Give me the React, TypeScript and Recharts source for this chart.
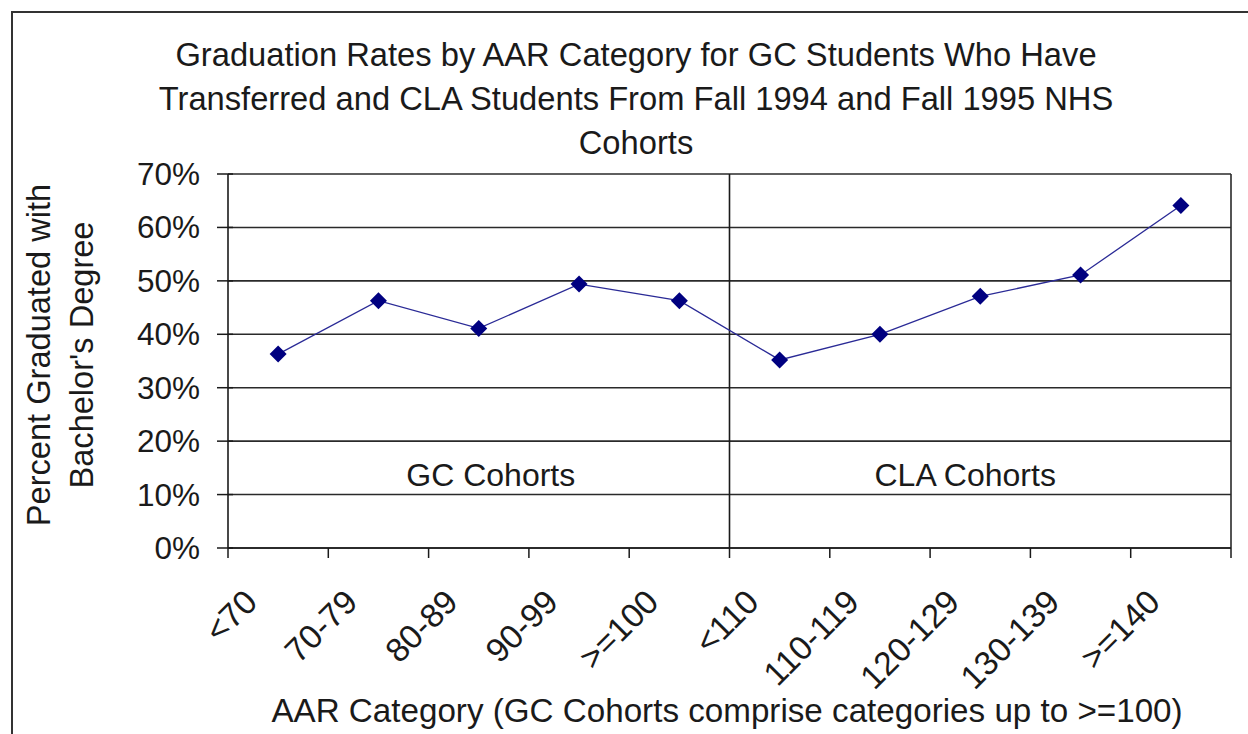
import { LineChart, Line, XAxis, YAxis, CartesianGrid, ReferenceLine, ReferenceDot } from 'recharts';

const categories = ['<70', '70-79', '80-89', '90-99', '>=100', '<110', '110-119', '120-129', '130-139', '>=140'];
const gradRates = [36.3, 46.3, 41.1, 49.4, 46.3, 35.2, 40, 47.1, 51.1, 64.1];
const yTicks = [0, 10, 20, 30, 40, 50, 60, 70];
const titleLines = [
  'Graduation Rates by AAR Category for GC Students Who Have',
  'Transferred and CLA Students From Fall 1994 and Fall 1995 NHS',
  'Cohorts',
];
const yLabelLines = ['Percent Graduated with', "Bachelor's Degree"];
const xLabel = 'AAR Category (GC Cohorts comprise categories up to >=100)';
const groupLabels = ['GC Cohorts', 'CLA Cohorts'];

// category i sits in the middle of band [i, i+1]
const data = gradRates.map((rate, i) => ({ x: i + 0.5, rate }));
const xTicks = [...Array(categories.length * 2 + 1)].map((_, i) => i / 2);

const FONT = '"Liberation Sans", Arial, sans-serif';
const INK = '#1a1a1a';

const XTick = (props: any) => {
  const { x, y, payload } = props;
  const v = payload.value as number;
  if (Number.isInteger(v)) {
    return <line x1={x} y1={y} x2={x} y2={y + 10} stroke={INK} strokeWidth={1.5} />;
  }
  const label = categories[Math.floor(v)];
  const ax = x - 19;
  const ay = y + 56;
  return (
    <text
      x={ax}
      y={ay}
      transform={`rotate(-45 ${ax} ${ay})`}
      textAnchor="end"
      fontFamily={FONT}
      fontSize={33.5}
      fill={INK}
    >
      {label}
    </text>
  );
};

const YTick = (props: any) => {
  const { x, y, payload } = props;
  return (
    <g>
      <line x1={x - 11} y1={y} x2={x + 5} y2={y} stroke={INK} strokeWidth={1.5} />
      <text x={x - 28} y={y + 11} textAnchor="end" fontFamily={FONT} fontSize={31.5} fill={INK}>
        {`${payload.value}%`}
      </text>
    </g>
  );
};

const Diamond = (props: any) => {
  const { cx, cy, index } = props;
  if (cx == null || cy == null) return <g key={index} />;
  return (
    <path
      key={index}
      d={`M${cx},${cy - 8.5} L${cx + 8.5},${cy} L${cx},${cy + 8.5} L${cx - 8.5},${cy} Z`}
      fill="#000080"
    />
  );
};

const GroupLabel = (text: string) => (props: any) => {
  const { viewBox } = props;
  const cx = viewBox.x + viewBox.width / 2;
  const cy = viewBox.y + viewBox.height / 2;
  return (
    <text x={cx} y={cy + 11} textAnchor="middle" fontFamily={FONT} fontSize={32} fill={INK}>
      {text}
    </text>
  );
};

export default function App() {
  return (
    <div
      style={{
        position: 'absolute',
        left: 0,
        top: 0,
        width: 1248,
        height: 734,
        background: '#fff',
        overflow: 'hidden',
      }}
    >
      <div
        style={{
          position: 'absolute',
          left: 11,
          top: 11,
          width: 1400,
          height: 900,
          border: '2px solid #333',
        }}
      />
      <LineChart
        width={1248}
        height={734}
        data={data}
        margin={{ top: 174, right: 17, bottom: 0, left: 168 }}
        style={{ position: 'absolute', left: 0, top: 0 }}
      >
        <CartesianGrid vertical={false} stroke="#2a2a2a" strokeWidth={1.6} />
        <XAxis
          dataKey="x"
          type="number"
          domain={[0, categories.length]}
          ticks={xTicks}
          interval={0}
          height={186}
          tickSize={0}
          tickMargin={0}
          tickLine={false}
          axisLine={{ stroke: INK, strokeWidth: 1.6 }}
          tick={<XTick />}
        />
        <YAxis
          type="number"
          domain={[0, 70]}
          ticks={yTicks}
          width={60}
          tickSize={0}
          tickMargin={0}
          tickLine={false}
          axisLine={{ stroke: INK, strokeWidth: 1.6 }}
          tick={<YTick />}
        />
        <ReferenceLine x={5} stroke={INK} strokeWidth={1.6} />
        <ReferenceLine x={10} stroke="#2a2a2a" strokeWidth={1.6} />
        <ReferenceDot x={2.62} y={13.7} r={0} stroke="none" fill="none" label={GroupLabel(groupLabels[0])} />
        <ReferenceDot x={7.35} y={13.7} r={0} stroke="none" fill="none" label={GroupLabel(groupLabels[1])} />
        <Line
          type="linear"
          dataKey="rate"
          stroke="#2a2a96"
          strokeWidth={1.3}
          dot={<Diamond />}
          activeDot={false}
          isAnimationActive={false}
        />
      </LineChart>
      <svg
        width={1248}
        height={734}
        style={{ position: 'absolute', left: 0, top: 0, pointerEvents: 'none' }}
      >
        {titleLines.map((t, i) => (
          <text
            key={t}
            x={636}
            y={66 + i * 44}
            textAnchor="middle"
            fontFamily={FONT}
            fontSize={32.7}
            fill={INK}
          >
            {t}
          </text>
        ))}
        {yLabelLines.map((t, i) => (
          <text
            key={t}
            x={50 + i * 43}
            y={355}
            transform={`rotate(-90 ${50 + i * 43} 355)`}
            textAnchor="middle"
            fontFamily={FONT}
            fontSize={32.6}
            fill={INK}
          >
            {t}
          </text>
        ))}
        <text x={727} y={722} textAnchor="middle" fontFamily={FONT} fontSize={33.2} fill={INK}>
          {xLabel}
        </text>
      </svg>
    </div>
  );
}
